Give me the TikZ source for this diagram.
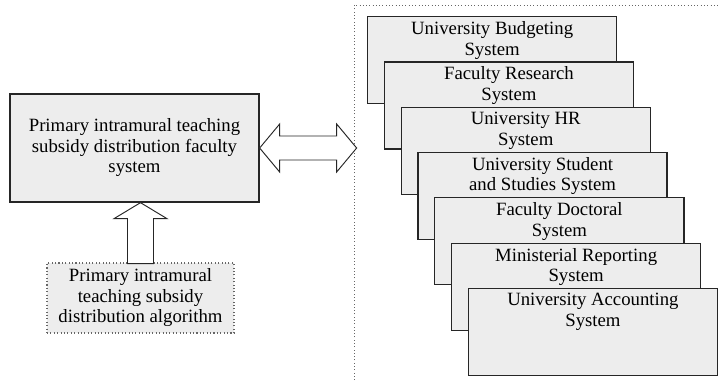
\documentclass[tikz,border=0pt]{standalone}
\usepackage{fontspec}
\setmainfont{Liberation Serif}
\usepackage{tikz}
\usetikzlibrary{positioning, calc}

\tikzset{
  box/.style={draw=black!85, line width=1.1pt, fill=black!7, minimum width=7.47cm, minimum height=2.61cm, inner sep=0pt},
  boxtext/.style={anchor=north, align=center, inner sep=4.5pt},
  mainbox/.style={draw=black!85, line width=1.1pt, fill=black!7, minimum width=7.47cm, minimum height=3.24cm, align=center},
  algbox/.style={draw=black!60, dotted, line width=0.9pt, fill=black!7, minimum width=5.61cm, minimum height=2.1cm, align=center},
  fat/.style={draw=black!85, line width=0.8pt, fill=white, line join=miter},
  frame/.style={draw=black!60, dotted, line width=0.8pt}
}

\begin{document}
\begin{tikzpicture}[x=0.03cm, y=-0.03cm, font=\fontsize{16}{17.5}\selectfont]
  \useasboundingbox (0,0) rectangle (719,383);

  % 左側のボックス
  \node[mainbox] (sys) at (134.5,148) {Primary intramural teaching\\subsidy distribution faculty\\system};
  \node[algbox] (alg) at (140.5,298) {Primary intramural\\teaching subsidy\\distribution algorithm};

  % 点線の枠
  \draw[frame] (354,380) -- (354,5) -- (719,5);

  % 右側のシステム群
  \foreach \nm/\txt [count=\i from 0] in {bud/{University Budgeting\\System}, res/{Faculty Research\\System}, hr/{University HR\\System}, stu/{University Student\\and Studies System}, doc/{Faculty Doctoral\\System}, rep/{Ministerial Reporting\\System}, acc/{University Accounting\\System}}
  {
    \node[box, anchor=north west] (\nm) at ({367+16.8*\i},{16+45.3*\i}) {};
    \node[boxtext] at (\nm.north) {\txt};
  }

  % 矢印
  \draw[fat] (sys.east) -- ++(20,-24) -- ++(0,12) -- ++(57,0) -- ++(0,-12) -- ++(20,24)
    -- ++(-20,24) -- ++(0,-12) -- ++(-57,0) -- ++(0,12) -- cycle; % 双方向
  \draw[fat] (alg.north |- sys.south) -- ++(26.5,16) -- ++(-13.5,0) -- ++(0,45)
    -- ++(-26,0) -- ++(0,-45) -- ++(-13.5,0) -- cycle; % 下から上へ
\end{tikzpicture}
\end{document}
